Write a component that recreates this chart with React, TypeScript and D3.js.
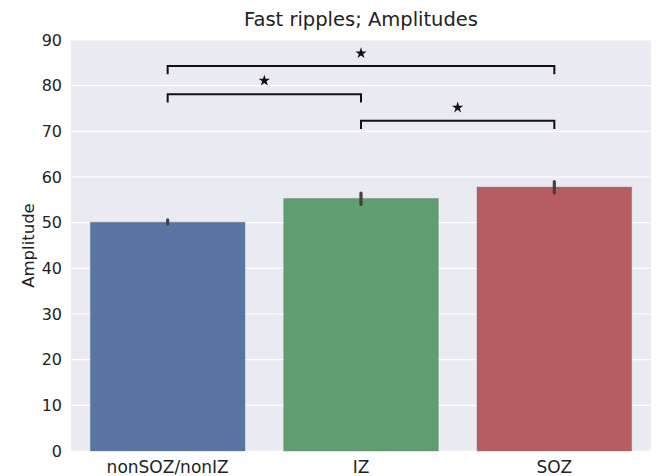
import React from "react";
import * as d3 from "d3";

const categories = ["nonSOZ/nonIZ", "IZ", "SOZ"];
const means = [50.1, 55.3, 57.8];
const ciLow = [49.7, 54.0, 56.5];
const ciHigh = [50.6, 56.5, 59.0];
const colors = ["#5975a4", "#5f9e6e", "#b55d60"];
const yTicks = [0, 10, 20, 30, 40, 50, 60, 70, 80, 90];
const brackets = [
  { from: 0, to: 2, level: 84.3, star: 87.1 },
  { from: 0, to: 1, level: 78.1, star: 81.1 },
  { from: 1, to: 2, level: 72.3, star: 75.2 },
];
const tickDrop = 1.8;

const W = 656, H = 476;
const M = { left: 71, right: 5, top: 40, bottom: 25 };
const font = "'DejaVu Sans', sans-serif";

export default function App() {
  const x = d3.scaleBand<string>().domain(categories).range([M.left, W - M.right]).paddingInner(0.2).paddingOuter(0.1);
  const y = d3.scaleLinear().domain([0, 90]).range([H - M.bottom, M.top]);
  const cx = (i: number) => (x(categories[i]) as number) + x.bandwidth() / 2;
  const star = d3.symbol().type(d3.symbolStar).size(40);
  return (
    <svg width={W} height={H} style={{ position: "absolute", left: 0, top: 0 }}>
      <rect x={0} y={0} width={W} height={H} fill="#fff" />
      <rect x={M.left} y={M.top} width={W - M.left - M.right} height={H - M.top - M.bottom} fill="#eaeaf2" />
      {yTicks.map((t) => (
        <g key={t}>
          <line x1={M.left} x2={W - M.right} y1={y(t)} y2={y(t)} stroke="#fff" strokeWidth={1.2} />
          <text x={M.left - 9} y={y(t)} dy="0.36em" textAnchor="end" fontFamily={font} fontSize={16} fill="#222">{t}</text>
        </g>
      ))}
      {categories.map((c, i) => (
        <g key={c}>
          <rect x={x(c)} y={y(means[i])} width={x.bandwidth()} height={y(0) - y(means[i])} fill={colors[i]} stroke="#7a7a7a" strokeOpacity={0.4} strokeWidth={1} />
          <line x1={cx(i)} x2={cx(i)} y1={y(ciLow[i])} y2={y(ciHigh[i])} stroke="#424242" strokeWidth={3.2} strokeLinecap="round" />
          <text x={cx(i)} y={473} textAnchor="middle" fontFamily={font} fontSize={17} fill="#222">{c}</text>
        </g>
      ))}
      {brackets.map((b, i) => (
        <g key={i}>
          <path d={`M${cx(b.from)},${y(b.level - tickDrop)}V${y(b.level)}H${cx(b.to)}V${y(b.level - tickDrop)}`} fill="none" stroke="#111" strokeWidth={2} />
          <path d={star() as string} transform={`translate(${(cx(b.from) + cx(b.to)) / 2},${y(b.star)})`} fill="#111" />
        </g>
      ))}
      <text x={(M.left + W - M.right) / 2} y={26} textAnchor="middle" fontFamily={font} fontSize={19.5} fill="#222">Fast ripples; Amplitudes</text>
      <text transform={`translate(34,${(M.top + H - M.bottom) / 2}) rotate(-90)`} textAnchor="middle" fontFamily={font} fontSize={16.5} fill="#222">Amplitude</text>
    </svg>
  );
}
